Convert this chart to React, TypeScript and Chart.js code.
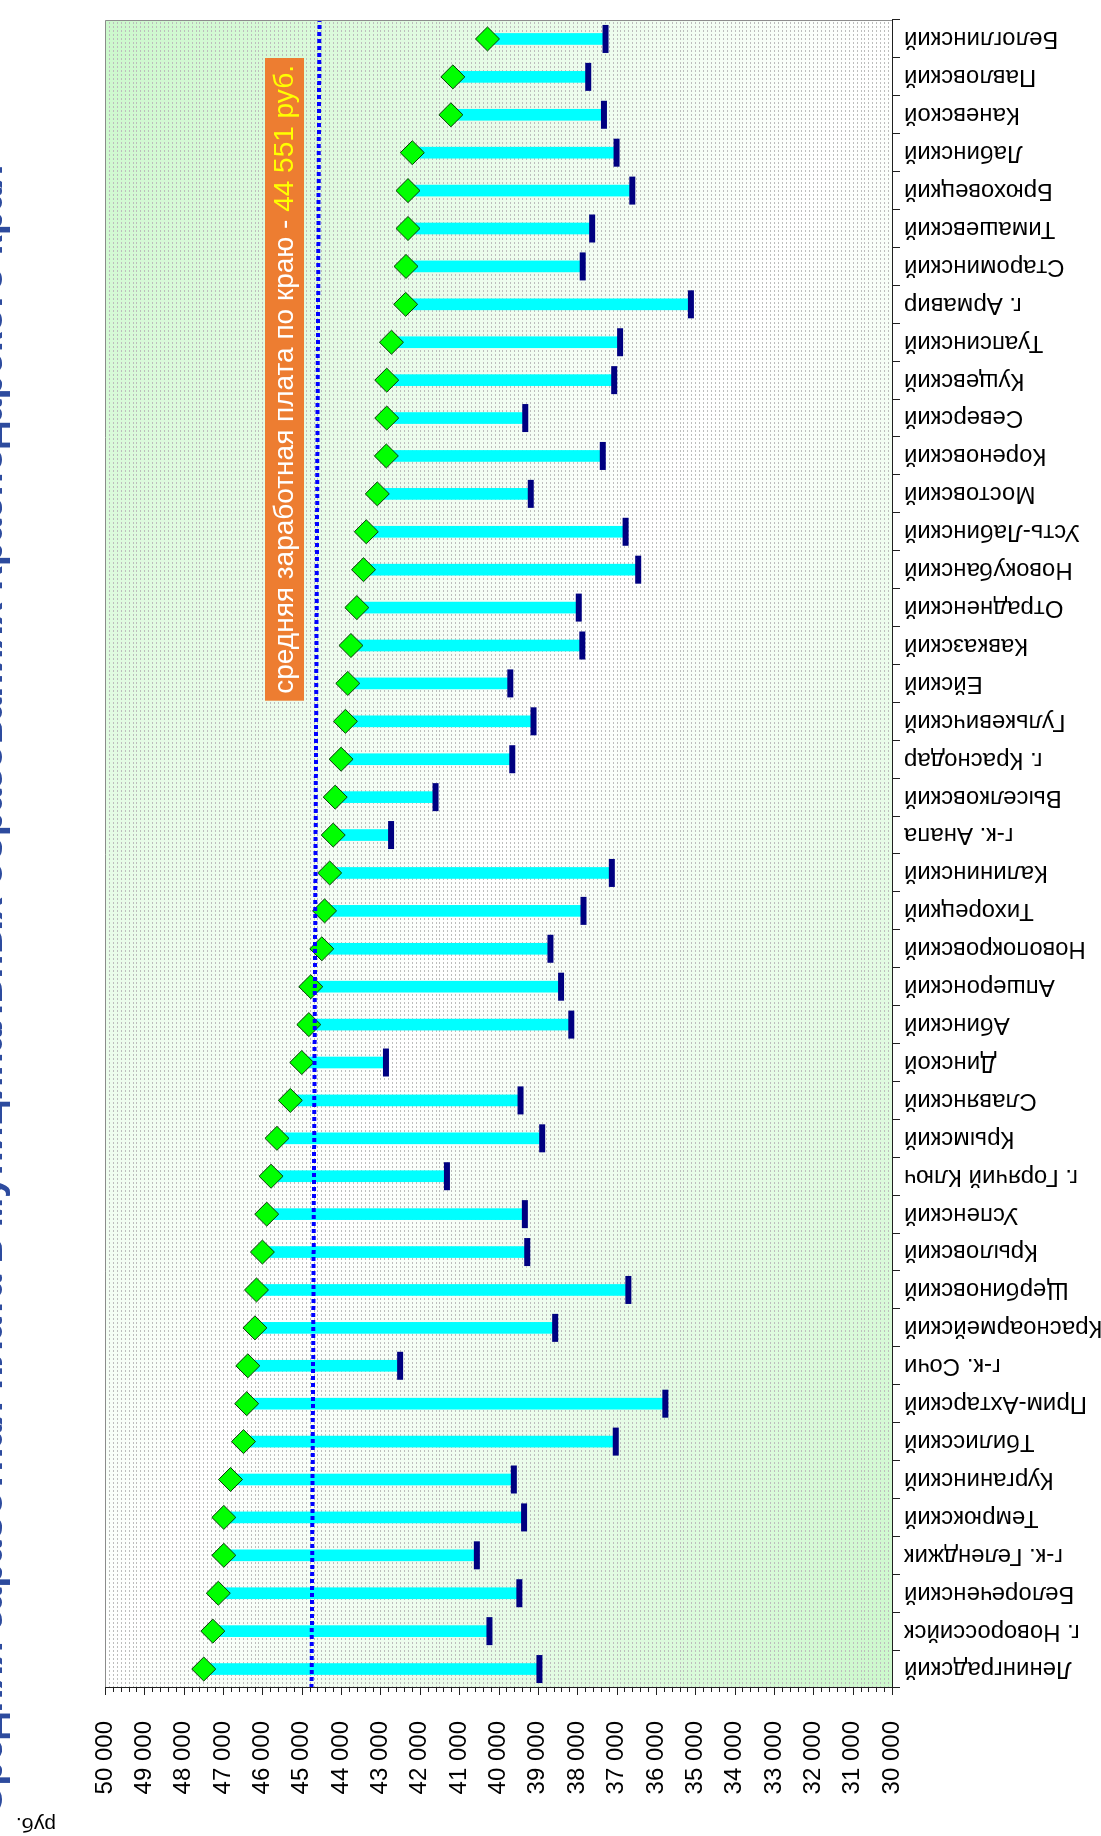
import React, { useEffect, useRef } from 'react';
import { Chart, registerables } from 'chart.js';

Chart.register(...registerables);

// ---------- data (original chart order: first category at the axis origin) ----------
const CATEGORIES: string[] = [
  'Ленинградский', 'г. Новороссийск', 'Белореченский', 'г-к. Геленджик', 'Темрюкский',
  'Курганинский', 'Тбилисский', 'Прим-Ахтарский', 'г-к. Сочи', 'Красноармейский',
  'Щербиновский', 'Крыловский', 'Успенский', 'г. Горячий Ключ', 'Крымский',
  'Славянский', 'Динской', 'Абинский', 'Апшеронский', 'Новопокровский',
  'Тихорецкий', 'Калининский', 'г-к. Анапа', 'Выселковский', 'г. Краснодар',
  'Гулькевичский', 'Ейский', 'Кавказский', 'Отрадненский', 'Новокубанский',
  'Усть-Лабинский', 'Мостовский', 'Кореновский', 'Северский', 'Кущевский',
  'Туапсинский', 'г. Армавир', 'Староминский', 'Тимашевский', 'Брюховецкий',
  'Лабинский', 'Каневской', 'Павловский', 'Белоглинский',
];

// green diamonds
const HIGH_VALUES: number[] = [
  47490, 47260, 47120, 46980, 46980, 46810, 46480, 46400, 46370, 46190,
  46150, 46000, 45890, 45780, 45630, 45290, 45000, 44820, 44770, 44490,
  44420, 44290, 44200, 44150, 44000, 43890, 43830, 43750, 43600, 43430,
  43360, 43080, 42850, 42840, 42840, 42720, 42360, 42350, 42300, 42300,
  42190, 41210, 41160, 40280,
];

// navy dashes
const LOW_VALUES: number[] = [
  38960, 40230, 39470, 40550, 39350, 39610, 37020, 35760, 42500, 38560,
  36700, 39270, 39330, 41310, 38890, 39440, 42860, 38150, 38410, 38680,
  37840, 37120, 42730, 41600, 39650, 39110, 39700, 37870, 37960, 36450,
  36770, 39180, 37350, 39320, 37060, 36910, 35110, 37860, 37620, 36600,
  37000, 37320, 37720, 37280,
];

const VALUE_MIN = 30000;
const VALUE_MAX = 50000;
const VALUE_STEP = 1000;
const GRID_STEP = 100;
const MINOR_TICK_STEP = 200;

const AVERAGE_WAGE = 44551;        // value quoted in the note (line end near the last category)
const AVERAGE_LINE_START = 44750;  // the hand-drawn line is slightly slanted (end near the first category)

const TITLE = 'Средняя заработная плата в муниципальных образованиях Краснодарского края';
const NOTE_TEXT = 'средняя заработная плата по краю - ';
const NOTE_VALUE = '44 551 руб.';
const UNIT_LABEL = 'руб.';

// ---------- layout (chart is drawn in its original landscape orientation, then rotated) ----------
const W = 1836;
const H = 1101;
const FONT = 'Arial, "Liberation Sans", sans-serif';

const fmt = (v: number) => String(v).replace(/\B(?=(\d{3})+(?!\d))/g, ' ');

const decorPlugin = {
  id: 'decor',
  beforeDatasetsDraw(chart: any) {
    const { ctx, chartArea: a, scales } = chart;
    const y = scales.y;
    const w = a.right - a.left;
    const h = a.bottom - a.top;
    ctx.save();
    // diagonal gradient background
    ctx.translate(a.left, a.top);
    ctx.scale(w, h);
    const g = ctx.createLinearGradient(0, 1, 1, 0);
    g.addColorStop(0, '#ccf8cc');
    g.addColorStop(0.5, '#ffffff');
    g.addColorStop(1, '#ccf8cc');
    ctx.fillStyle = g;
    ctx.fillRect(0, 0, 1, 1);
    ctx.restore();

    // dense dashed grid lines
    ctx.save();
    ctx.strokeStyle = '#bdbdbd';
    ctx.lineWidth = 1;
    ctx.setLineDash([2, 2]);
    for (let v = VALUE_MIN + GRID_STEP; v < VALUE_MAX; v += GRID_STEP) {
      const py = Math.round(y.getPixelForValue(v)) + 0.5;
      ctx.beginPath();
      ctx.moveTo(a.left, py);
      ctx.lineTo(a.right, py);
      ctx.stroke();
    }
    ctx.restore();
  },
  afterDatasetsDraw(chart: any) {
    const { ctx, chartArea: a, scales } = chart;
    const y = scales.y;

    // average line (dotted blue)
    ctx.save();
    ctx.strokeStyle = '#0000ff';
    ctx.lineWidth = 4;
    ctx.setLineDash([4, 3]);
    ctx.beginPath();
    ctx.moveTo(a.left, y.getPixelForValue(AVERAGE_LINE_START));
    ctx.lineTo(a.right, y.getPixelForValue(AVERAGE_WAGE));
    ctx.stroke();
    ctx.restore();

    // frame
    ctx.save();
    ctx.lineWidth = 1;
    ctx.strokeStyle = '#8c8c8c';
    ctx.beginPath();
    ctx.moveTo(a.left, a.top + 0.5);
    ctx.lineTo(a.right - 0.5, a.top + 0.5);
    ctx.lineTo(a.right - 0.5, a.bottom);
    ctx.stroke();
    ctx.strokeStyle = '#202020';
    ctx.beginPath();
    ctx.moveTo(a.left + 0.5, a.top);
    ctx.lineTo(a.left + 0.5, a.bottom + 0.5);
    ctx.lineTo(a.right, a.bottom + 0.5);
    ctx.stroke();
    // value axis tick marks
    for (let v = VALUE_MIN; v <= VALUE_MAX; v += MINOR_TICK_STEP) {
      const len = v % VALUE_STEP === 0 ? 7 : 4;
      const py = Math.round(y.getPixelForValue(v)) + 0.5;
      ctx.beginPath();
      ctx.moveTo(a.left - len, py);
      ctx.lineTo(a.left, py);
      ctx.stroke();
    }
    ctx.restore();

    // note box
    ctx.save();
    ctx.font = `28px ${FONT}`;
    const w1 = ctx.measureText(NOTE_TEXT).width;
    const w2 = ctx.measureText(NOTE_VALUE).width;
    const pad = 7;
    const boxRight = a.right - 38;
    const boxLeft = boxRight - (w1 + w2 + pad * 2);
    const boxTop = a.top + 160;
    const boxH = 39;
    ctx.fillStyle = '#ed7d31';
    ctx.fillRect(boxLeft, boxTop, boxRight - boxLeft, boxH);
    ctx.textBaseline = 'middle';
    ctx.textAlign = 'left';
    ctx.fillStyle = '#ffffff';
    ctx.fillText(NOTE_TEXT, boxLeft + pad, boxTop + boxH / 2 + 1);
    ctx.fillStyle = '#ffff00';
    ctx.fillText(NOTE_VALUE, boxLeft + pad + w1, boxTop + boxH / 2 + 1);
    ctx.restore();

    // title (mostly cut off at the top edge, as in the reference)
    ctx.save();
    ctx.font = `bold 36px ${FONT}`;
    const tw = ctx.measureText(TITLE).width;
    const size = (36 * 1650) / tw;
    ctx.font = `bold ${size.toFixed(1)}px ${FONT}`;
    ctx.fillStyle = '#2d4b9e';
    ctx.textAlign = 'left';
    ctx.textBaseline = 'alphabetic';
    ctx.fillText(TITLE, 21, 2);
    ctx.restore();

    // unit label
    ctx.save();
    ctx.font = `21px ${FONT}`;
    ctx.fillStyle = '#000';
    ctx.translate(12, 36);
    ctx.rotate(-Math.PI / 2);
    ctx.textAlign = 'center';
    ctx.textBaseline = 'middle';
    ctx.fillText(UNIT_LABEL, 0, 0);
    ctx.restore();
  },
};

export default function App() {
  const canvasRef = useRef<HTMLCanvasElement | null>(null);

  useEffect(() => {
    document.documentElement.style.overflow = 'hidden';
    document.body.style.overflow = 'hidden';
    const canvas = canvasRef.current;
    if (!canvas) return;
    const chart = new Chart(canvas, {
      type: 'bar',
      data: {
        labels: CATEGORIES,
        datasets: [
          {
            type: 'line',
            data: HIGH_VALUES,
            showLine: false,
            pointStyle: 'rectRot',
            pointRadius: 12,
            pointBackgroundColor: '#00ff00',
            pointBorderColor: '#0a3a0a',
            pointBorderWidth: 1,
            order: 0,
          } as any,
          {
            type: 'line',
            data: LOW_VALUES,
            showLine: false,
            pointStyle: 'line',
            pointRadius: 14,
            pointBorderColor: '#000080',
            pointBorderWidth: 6,
            order: 1,
          } as any,
          {
            type: 'bar',
            data: LOW_VALUES.map((lo, i) => [lo, HIGH_VALUES[i]]),
            backgroundColor: '#00ffff',
            borderWidth: 0,
            barThickness: 11,
            order: 2,
          } as any,
        ],
      },
      options: {
        responsive: false,
        animation: false,
        events: [],
        layout: { padding: { top: 105, right: 12, left: 0, bottom: 0 } },
        plugins: {
          legend: { display: false },
          title: { display: false },
          tooltip: { enabled: false },
        },
        scales: {
          x: {
            type: 'category',
            offset: true,
            grid: {
              display: true,
              drawOnChartArea: false,
              drawTicks: true,
              tickLength: 8,
              color: '#202020',
              offset: true,
            },
            border: { display: false },
            ticks: {
              autoSkip: false,
              maxRotation: 90,
              minRotation: 90,
              padding: 4,
              color: '#000',
              font: { family: FONT, size: 24 },
            },
            afterFit: (s: any) => {
              s.height = 209;
              s.paddingLeft = 0;
              s.paddingRight = 0;
            },
          },
          y: {
            min: VALUE_MIN,
            max: VALUE_MAX,
            grid: { display: false },
            border: { display: false },
            ticks: {
              stepSize: VALUE_STEP,
              padding: 25,
              color: '#000',
              font: { family: FONT, size: 24 },
              callback: (v: any) => fmt(Number(v)),
            },
            afterFit: (s: any) => {
              s.width = 148;
              s.paddingTop = 0;
              s.paddingBottom = 0;
            },
          },
        },
      } as any,
      plugins: [decorPlugin],
    });
    return () => chart.destroy();
  }, []);

  return (
    <div
      style={{
        position: 'absolute',
        left: 0,
        top: 0,
        width: W,
        height: H,
        transformOrigin: '0 0',
        transform: `translateY(${W}px) rotate(-90deg)`,
        background: '#fff',
      }}
    >
      <canvas ref={canvasRef} width={W} height={H} style={{ display: 'block' }} />
    </div>
  );
}
